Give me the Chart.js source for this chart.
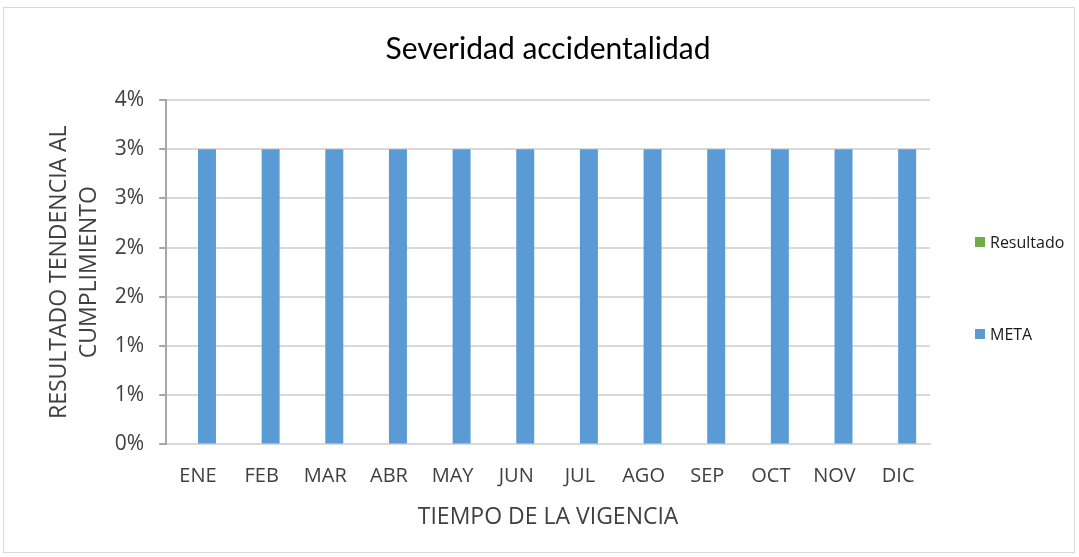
<!DOCTYPE html>
<html>
<head>
<meta charset="utf-8">
<script src="https://cdn.jsdelivr.net/npm/chart.js@4.4.1/dist/chart.umd.min.js"></script>
<style>
  html, body { margin: 0; padding: 0; background: #fff; }
  #wrap { position: relative; width: 1079px; height: 557px; }
  #frame { position: absolute; left: 3px; top: 7px; width: 1072px; height: 546px; border: 1px solid #d9d9d9; box-sizing: border-box; }
  #title { position: absolute; left: 0; width: 1096px; top: 29px; text-align: center; font-family: Lato, sans-serif; font-size: 30px; color: #000; line-height: 36px; }
  #legend { position: absolute; left: 975px; top: 0; font-family: "Open Sans", sans-serif; font-size: 16px; color: #1a1a1a; }
  .leg { position: absolute; white-space: nowrap; display: flex; align-items: center; }
  .leg i { display: inline-block; width: 10px; height: 10px; margin-right: 5px; }
</style>
</head>
<body>
<div id="wrap">
  <div id="frame"></div>
  <canvas id="chart" width="1079" height="557"></canvas>
  <div id="title">Severidad accidentalidad</div>
  <div id="legend"></div>
</div>
<script>
// ── Data ──────────────────────────────────────────────
const months = ["ENE", "FEB", "MAR", "ABR", "MAY", "JUN", "JUL", "AGO", "SEP", "OCT", "NOV", "DIC"];
const resultado = [0, 0, 0, 0, 0, 0, 0, 0, 0, 0, 0, 0];
const meta = [0.03, 0.03, 0.03, 0.03, 0.03, 0.03, 0.03, 0.03, 0.03, 0.03, 0.03, 0.03];
const yMax = 0.035;
const yStep = 0.005;

const seriesNames = ["Resultado", "META"];
const seriesColors = ["#70ad47", "#5b9bd5"];

// ── Legend (Excel style, spread vertically) ───────────
const legend = document.getElementById("legend");
[243, 335].forEach((y, i) => {
  const item = document.createElement("div");
  item.className = "leg";
  item.style.top = (y - 12) + "px";
  item.innerHTML = `<i style="background:${seriesColors[i]}"></i>${seriesNames[i]}`;
  legend.appendChild(item);
});

// ── Chart ─────────────────────────────────────────────
const font = "'Open Sans', sans-serif";
new Chart(document.getElementById("chart"), {
  type: "bar",
  data: {
    labels: months,
    datasets: [
      { label: seriesNames[0], data: resultado, backgroundColor: seriesColors[0] },
      { label: seriesNames[1], data: meta, backgroundColor: seriesColors[1] }
    ]
  },
  options: {
    responsive: false,
    animation: false,
    categoryPercentage: 0.565,
    barPercentage: 1,
    layout: { padding: { left: 45, right: 149, top: 100, bottom: 26 } },
    plugins: {
      legend: { display: false },
      tooltip: { enabled: false },
      title: { display: false }
    },
    scales: {
      x: {
        grid: { display: false, drawTicks: false },
        border: { color: "#d9d9d9", width: 2 },
        ticks: { color: "#404040", font: { family: font, size: 20 }, padding: 20 },
        title: {
          display: true,
          text: "TIEMPO DE LA VIGENCIA",
          color: "#404040",
          font: { family: font, size: 23 },
          padding: { top: -5, bottom: 0 }
        }
      },
      y: {
        min: 0,
        max: yMax,
        ticks: {
          stepSize: yStep,
          color: "#404040",
          font: { family: font, size: 21 },
          padding: 15,
          callback: (v) => Math.round(Math.round(v * 1000) / 10) + "%"
        },
        grid: { color: "#d9d9d9", lineWidth: 2, tickLength: 7, tickColor: "#a6a6a6" },
        border: { color: "#a6a6a6", width: 2 },
        title: {
          display: true,
          text: ["RESULTADO TENDENCIA AL", "CUMPLIMIENTO"],
          color: "#404040",
          font: { family: font, size: 23, lineHeight: 1.3 },
          padding: { top: 0, bottom: -5 }
        }
      }
    }
  }
});
</script>
</body>
</html>
